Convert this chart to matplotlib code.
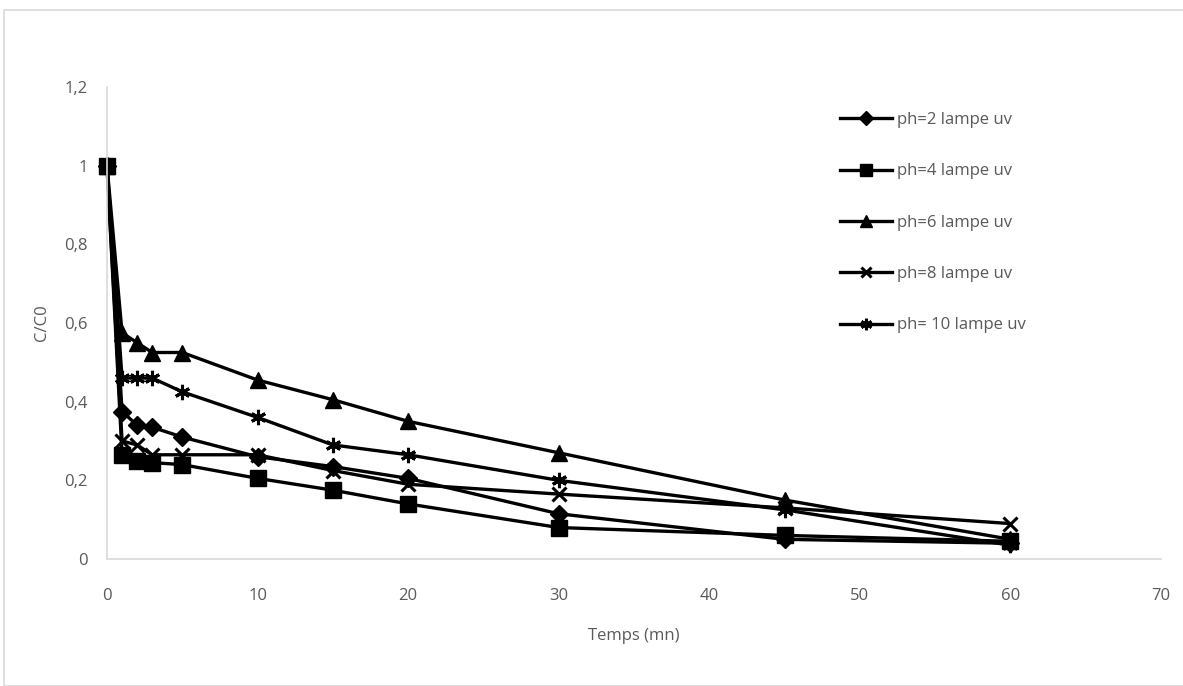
import matplotlib
matplotlib.use("Agg")
import matplotlib.pyplot as plt
from matplotlib.patches import Rectangle
from matplotlib.ticker import FuncFormatter

temps = [0, 1, 2, 3, 5, 10, 15, 20, 30, 45, 60]
ph2 = [1.0, 0.375, 0.34, 0.335, 0.31, 0.26, 0.235, 0.205, 0.115, 0.05, 0.04]
ph4 = [1.0, 0.265, 0.25, 0.245, 0.24, 0.205, 0.175, 0.14, 0.08, 0.06, 0.045]
ph6 = [1.0, 0.575, 0.55, 0.525, 0.525, 0.455, 0.405, 0.35, 0.27, 0.15, 0.05]
ph8 = [1.0, 0.30, 0.29, 0.265, 0.265, 0.265, 0.225, 0.19, 0.165, 0.13, 0.09]
ph10 = [1.0, 0.46, 0.46, 0.46, 0.425, 0.36, 0.29, 0.265, 0.20, 0.125, 0.035]

labels = ["ph=2 lampe uv", "ph=4 lampe uv", "ph=6 lampe uv", "ph=8 lampe uv", "ph= 10 lampe uv"]
series = [ph2, ph4, ph6, ph8, ph10]
markers = ["D", "s", "^", "x", (6, 2, 0)]
msizes = [9, 12, 11, 10, 11]

plt.rcParams['font.family'] = ['Open Sans', 'DejaVu Sans']
txt = "#595959"
fs = 12

fig = plt.figure(figsize=(11.83, 6.86), dpi=100)
fig.patches.append(Rectangle((4/1183, 0), 1.2, 1 - 10/686, transform=fig.transFigure,
                             fill=False, edgecolor="#d9d9d9", linewidth=1.2))
ax = fig.add_axes([107/1183, 1 - 559/686, (1161 - 107)/1183, (559 - 87)/686])

for y, lab, m, ms in zip(series, labels, markers, msizes):
    ax.plot(temps, y, color="black", linewidth=2.4, marker=m, markersize=ms,
            markeredgewidth=2.2 if m in ("x", (6, 2, 0)) else 1,
            markerfacecolor="black", markeredgecolor="black", label=lab,
            clip_on=False)

ax.set_xlim(0, 70)
ax.set_ylim(0, 1.2)
ax.set_xticks(range(0, 71, 10))
ax.set_yticks([0, 0.2, 0.4, 0.6, 0.8, 1.0, 1.2])
ax.yaxis.set_major_formatter(FuncFormatter(lambda v, p: ("%g" % round(v, 1)).replace(".", ",")))
ax.tick_params(axis="x", length=0, labelsize=fs, colors=txt, pad=21)
ax.tick_params(axis="y", length=0, labelsize=fs, colors=txt, pad=14)
for s in ["top", "right"]:
    ax.spines[s].set_visible(False)
for s in ["left", "bottom"]:
    ax.spines[s].set_color("#d9d9d9")
    ax.spines[s].set_linewidth(1.2)

ax.set_xlabel("Temps (mn)", fontsize=fs, color=txt, labelpad=17)
ax.set_ylabel("C/C0", fontsize=fs, color=txt, labelpad=10)

leg = ax.legend(loc="upper left", bbox_to_anchor=(718/1054, 1 - 10/472), frameon=False,
                fontsize=fs, handlelength=3.1, labelspacing=2.12, handletextpad=0.3,
                markerscale=0.75)
for t in leg.get_texts():
    t.set_color(txt)

fig.savefig("out.png", dpi=100)
